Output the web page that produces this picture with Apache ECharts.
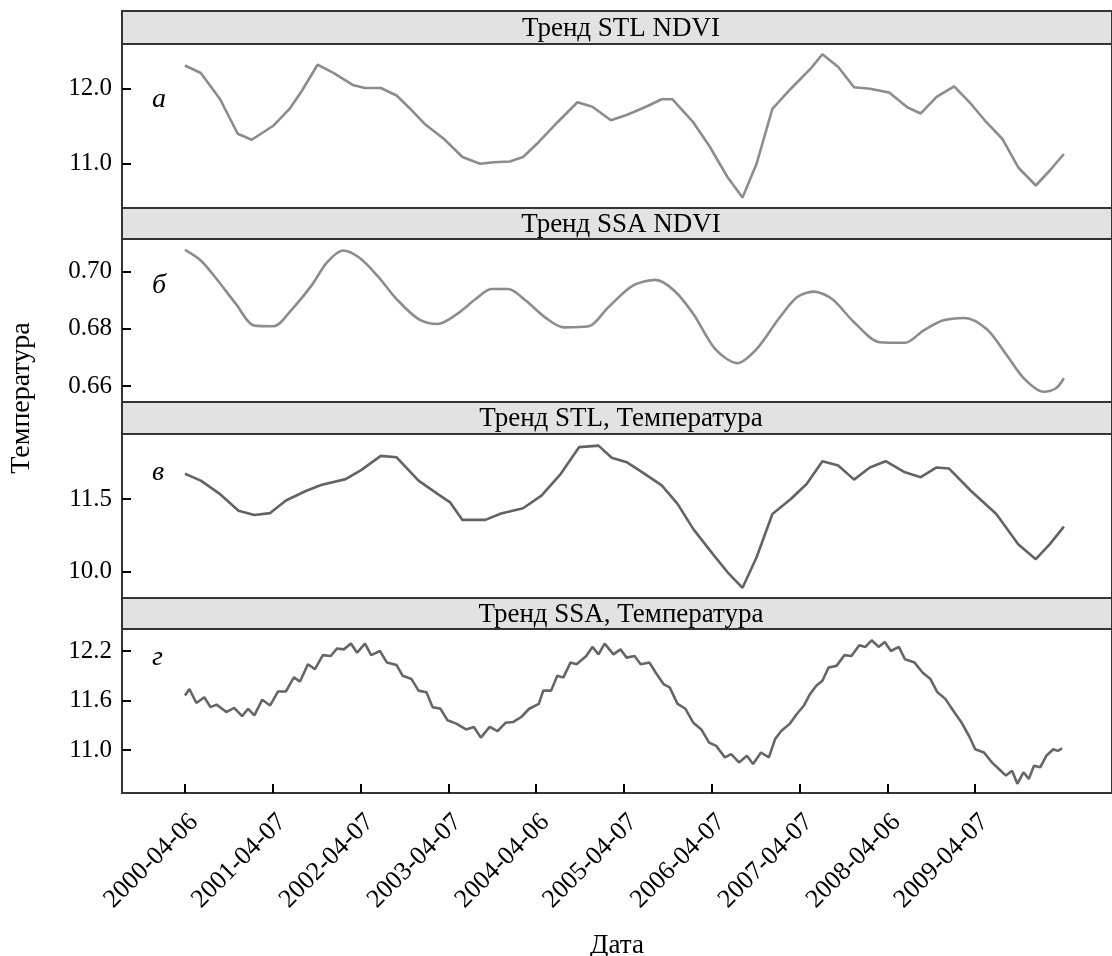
<!DOCTYPE html>
<html>
<head>
<meta charset="utf-8">
<script src="https://cdn.jsdelivr.net/npm/echarts@6/dist/echarts.min.js"></script>
<style>
  html, body { margin: 0; padding: 0; background: #fff; }
  #chart { width: 1112px; height: 956px; }
</style>
</head>
<body>
<div id="chart"></div>
<script>
// x = years since 2000-04-06
var tickLabels = ['2000-04-06', '2001-04-07', '2002-04-07', '2003-04-07', '2004-04-06',
  '2005-04-07', '2006-04-07', '2007-04-07', '2008-04-06', '2009-04-07'];
var panelTitles = ['Тренд STL NDVI', 'Тренд SSA NDVI', 'Тренд STL, Температура', 'Тренд SSA, Температура'];
var panelLetters = ['а', 'б', 'в', 'г'];

var stlNdviX = [0.00,0.18,0.40,0.60,0.76,1.01,1.19,1.33,1.51,1.69,1.91,2.05,2.23,2.41,2.55,2.73,2.95,3.16,3.36,3.52,3.70,3.85,4.03,4.24,4.47,4.64,4.85,5.03,5.25,5.43,5.55,5.79,5.97,6.18,6.35,6.51,6.69,6.90,7.12,7.26,7.44,7.62,7.80,8.02,8.23,8.38,8.56,8.76,8.95,9.13,9.31,9.49,9.69,9.85,10.01];
var stlNdviY = [12.31,12.21,11.86,11.40,11.32,11.51,11.73,11.97,12.32,12.21,12.05,12.01,12.01,11.91,11.75,11.53,11.33,11.09,11.00,11.02,11.03,11.09,11.29,11.55,11.82,11.76,11.58,11.65,11.76,11.86,11.86,11.55,11.24,10.82,10.55,11.00,11.73,12.00,12.26,12.46,12.29,12.02,12.00,11.95,11.75,11.67,11.89,12.03,11.80,11.55,11.33,10.95,10.71,10.91,11.13];

var ssaNdviX = [0.00,0.18,0.36,0.58,0.79,1.01,1.22,1.44,1.62,1.80,1.98,2.19,2.41,2.66,2.88,3.10,3.31,3.49,3.68,3.88,4.10,4.31,4.60,4.82,5.10,5.36,5.57,5.79,6.04,6.29,6.51,6.76,6.97,7.16,7.37,7.62,7.91,8.20,8.41,8.63,8.88,9.13,9.35,9.56,9.78,9.92,10.01];
var ssaNdviY = [0.7076,0.7039,0.6974,0.6887,0.6811,0.6809,0.6869,0.6951,0.7033,0.7074,0.7050,0.6986,0.6904,0.6834,0.6817,0.6852,0.6904,0.6939,0.6939,0.6899,0.6840,0.6805,0.6809,0.6875,0.6951,0.6971,0.6934,0.6852,0.6729,0.6680,0.6729,0.6834,0.6910,0.6930,0.6904,0.6823,0.6753,0.6751,0.6794,0.6829,0.6838,0.6799,0.6712,0.6625,0.6580,0.6592,0.6627];

var stlTempX = [0.00,0.18,0.40,0.61,0.79,0.97,1.15,1.37,1.55,1.83,2.01,2.23,2.41,2.66,2.88,3.02,3.16,3.42,3.60,3.85,4.06,4.28,4.49,4.71,4.86,5.03,5.21,5.43,5.61,5.79,6.01,6.18,6.35,6.51,6.69,6.90,7.08,7.26,7.44,7.62,7.80,7.98,8.20,8.38,8.56,8.70,8.95,9.24,9.49,9.69,9.85,10.01];
var stlTempY = [12.02,11.88,11.60,11.26,11.17,11.21,11.47,11.66,11.79,11.91,12.10,12.39,12.36,11.88,11.60,11.43,11.07,11.07,11.20,11.31,11.57,12.02,12.57,12.60,12.35,12.26,12.05,11.78,11.40,10.88,10.37,9.99,9.67,10.30,11.19,11.50,11.81,12.28,12.19,11.90,12.15,12.28,12.05,11.95,12.15,12.13,11.67,11.19,10.57,10.26,10.57,10.93];

var ssaTempX = [0.00,0.05,0.13,0.22,0.29,0.36,0.47,0.56,0.65,0.72,0.79,0.88,0.97,1.06,1.15,1.24,1.31,1.40,1.48,1.57,1.66,1.73,1.81,1.89,1.96,2.05,2.12,2.22,2.30,2.41,2.48,2.58,2.66,2.75,2.82,2.91,2.99,3.09,3.20,3.29,3.37,3.47,3.56,3.65,3.74,3.83,3.92,4.03,4.08,4.17,4.24,4.31,4.39,4.46,4.57,4.64,4.71,4.78,4.88,4.96,5.03,5.12,5.19,5.29,5.36,5.45,5.52,5.61,5.70,5.79,5.88,5.97,6.05,6.15,6.22,6.31,6.40,6.47,6.56,6.65,6.72,6.79,6.89,6.97,7.05,7.12,7.19,7.26,7.33,7.42,7.51,7.59,7.68,7.75,7.82,7.90,7.97,8.04,8.13,8.20,8.31,8.40,8.49,8.57,8.66,8.76,8.84,8.93,9.00,9.10,9.19,9.27,9.35,9.42,9.48,9.55,9.61,9.67,9.74,9.81,9.89,9.94,9.99];
var ssaTempY = [11.66,11.74,11.57,11.64,11.52,11.55,11.46,11.51,11.41,11.50,11.42,11.61,11.54,11.71,11.71,11.88,11.83,12.04,11.98,12.15,12.14,12.23,12.22,12.29,12.18,12.29,12.15,12.20,12.06,12.03,11.90,11.86,11.72,11.70,11.52,11.50,11.36,11.32,11.25,11.28,11.15,11.28,11.23,11.33,11.34,11.40,11.50,11.56,11.72,11.72,11.90,11.88,12.06,12.04,12.14,12.25,12.16,12.29,12.16,12.22,12.12,12.14,12.04,12.06,11.94,11.80,11.76,11.56,11.50,11.33,11.25,11.09,11.05,10.91,10.95,10.85,10.93,10.83,10.97,10.91,11.13,11.23,11.32,11.44,11.54,11.68,11.78,11.84,12.00,12.02,12.15,12.14,12.27,12.25,12.33,12.25,12.31,12.20,12.25,12.10,12.06,11.94,11.86,11.70,11.62,11.46,11.34,11.17,11.01,10.97,10.85,10.77,10.69,10.75,10.59,10.73,10.65,10.81,10.79,10.93,11.01,10.99,11.02];

// y tick values per panel
var yTicks = [[11.0, 12.0], [0.66, 0.68, 0.70], [10.0, 11.5], [11.0, 11.6, 12.2]];
var yDigits = [1, 2, 1, 1];
var xTicks = [0, 1, 2, 3, 4, 5, 6, 7, 8, 9];

var FONT = "'Liberation Serif', 'DejaVu Serif', serif";

function zip(xs, ys) {
  return xs.map(function (x, i) { return [x, ys[i]]; });
}

var seriesData = [zip(stlNdviX, stlNdviY), zip(ssaNdviX, ssaNdviY), zip(stlTempX, stlTempY), zip(ssaTempX, ssaTempY)];
var lineColors = ['#8c8c8c', '#8c8c8c', '#636363', '#666666'];

// layout
var plotLeft = 122, plotWidth = 990;
var gridTops = [44, 239, 434, 629];
var gridHeights = [164, 163, 164, 164];
var headerTops = [11, 208, 402, 598];
var yRanges = [[10.41, 12.596], [0.6544, 0.7114], [9.46, 12.84], [10.479, 12.467]];
var letterY = [100, 286, 473, 658];

var chart = echarts.init(document.getElementById('chart'));

var grids = [], xAxes = [], yAxes = [], series = [], graphics = [];
for (var i = 0; i < 4; i++) {
  var last = i === 3;
  grids.push({
    left: plotLeft, top: gridTops[i], width: plotWidth, height: gridHeights[i],
    containLabel: false, outerBoundsMode: 'none',
    show: true, borderColor: '#333', borderWidth: 2, backgroundColor: '#fff'
  });
  xAxes.push({
    type: 'value', gridIndex: i, min: -0.7175, max: 10.558,
    axisLine: { show: false, onZero: false },
    splitLine: { show: false },
    axisTick: last ? { show: true, inside: true, length: 9, customValues: xTicks, lineStyle: { color: '#000', width: 2 } } : { show: false },
    axisLabel: last ? {
      show: true, customValues: xTicks, rotate: 45, fontSize: 26, fontFamily: FONT, color: '#000',
      margin: 16, verticalAlign: 'top',
      formatter: function (v) { return tickLabels[Math.round(v)]; }
    } : { show: false },
    name: last ? 'Дата' : '',
    nameLocation: 'middle', nameGap: 139,
    nameTextStyle: { fontSize: 27, fontFamily: FONT, color: '#000' }
  });
  (function (idx) {
    yAxes.push({
      type: 'value', gridIndex: idx, min: yRanges[idx][0], max: yRanges[idx][1],
      axisLine: { show: false, onZero: false },
      splitLine: { show: false },
      axisTick: { show: true, inside: true, length: 9, customValues: yTicks[idx], lineStyle: { color: '#000', width: 2 } },
      axisLabel: {
        customValues: yTicks[idx], fontSize: 25, fontFamily: FONT, color: '#000', margin: 10,
        formatter: function (v) { return v.toFixed(yDigits[idx]); }
      }
    });
  })(i);
  series.push({
    type: 'line', xAxisIndex: i, yAxisIndex: i, data: seriesData[i],
    showSymbol: false, smooth: i === 1 ? 0.3 : false,
    lineStyle: { color: lineColors[i], width: 2.6 },
    silent: true
  });
  graphics.push({
    type: 'rect', z: 100,
    shape: { x: plotLeft, y: headerTops[i], width: plotWidth, height: gridTops[i] - headerTops[i] },
    style: { fill: '#e2e2e2', stroke: '#333', lineWidth: 2 }
  });
  graphics.push({
    type: 'text', z: 101, x: 621, y: (headerTops[i] + gridTops[i]) / 2 + 1,
    style: { text: panelTitles[i], fontSize: 27, fontFamily: FONT, fill: '#000', align: 'center', verticalAlign: 'middle' }
  });
  graphics.push({
    type: 'text', z: 101, x: 152, y: letterY[i],
    style: { text: panelLetters[i], fontSize: 28, fontStyle: 'italic', fontFamily: FONT, fill: '#000', align: 'left', verticalAlign: 'middle' }
  });
}

graphics.push({
  type: 'text', z: 101, x: 22, y: 398, rotation: Math.PI / 2,
  style: { text: 'Температура', fontSize: 28, fontFamily: FONT, fill: '#000', align: 'center', verticalAlign: 'middle' }
});

chart.setOption({
  animation: false,
  grid: grids,
  xAxis: xAxes,
  yAxis: yAxes,
  series: series,
  graphic: graphics
});
</script>
</body>
</html>
